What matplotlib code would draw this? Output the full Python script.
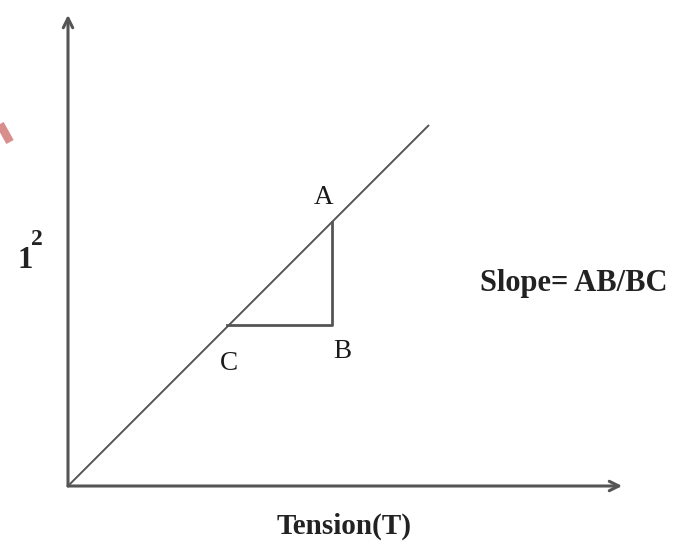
import matplotlib.pyplot as plt

# data in graph units (origin at the corner of the axes)
line_T = [0.0, 10.0]
line_l2 = [0.0, 10.0]
point_names = ["A", "B", "C"]
point_T = [7.3, 7.3, 4.4]
point_l2 = [7.3, 4.45, 4.45]
x_axis_end = 15.35
y_axis_end = 13.05

PX = 36.1  # pixels per graph unit
fig = plt.figure(figsize=(6.76, 5.45), dpi=100)
ax = fig.add_axes([0, 0, 1, 1])
ax.set_xlim(-68 / PX, (676 - 68) / PX)
ax.set_ylim(-(545 - 486) / PX, 486 / PX)
ax.axis("off")

axis_col = "#555555"
for end in [(x_axis_end, 0), (0, y_axis_end)]:
    ax.annotate("", xy=end, xytext=(0, 0),
                arrowprops=dict(arrowstyle="->", color=axis_col, lw=2.2, mutation_scale=17,
                                shrinkA=0, shrinkB=0))

ax.plot(line_T, line_l2, color="#555555", lw=1.4, solid_capstyle="butt")

a, b, c = [(t, l) for t, l in zip(point_T, point_l2)]
ax.plot([c[0], b[0], a[0]], [c[1], b[1], a[1]], color="#555555", lw=2.0)

serif = "Liberation Serif"
offsets = {"A": (-0.22, 0.68), "B": (0.3, -0.72), "C": (0.05, -1.05)}
for name, t, l in zip(point_names, point_T, point_l2):
    dx, dy = offsets[name]
    ax.text(t + dx, l + dy, name, family=serif, fontsize=19.5, ha="center", va="center",
            color="#1a1a1a")

ax.text((344 - 68) / PX, (486 - 534) / PX, "Tension(T)", family=serif, fontsize=21,
        fontweight="bold", ha="center", va="baseline", color="#222222")
ax.text((480 - 68) / PX, (486 - 291) / PX, "Slope= AB/BC", family=serif, fontsize=22,
        fontweight="bold", ha="left", va="baseline", color="#222222")
ax.text((17 - 68) / PX, (486 - 268) / PX, "1", family=serif, fontsize=22,
        fontweight="bold", ha="left", va="baseline", color="#222222")
ax.text((31 - 68) / PX, (486 - 245) / PX, "2", family=serif, fontsize=17,
        fontweight="bold", ha="left", va="baseline", color="#222222")

# faint watermark stroke in the top-left corner
ax.plot([-68 / PX, -58 / PX], [(486 - 124) / PX, (486 - 142) / PX], color="#d98e8e",
        lw=6, solid_capstyle="butt")

fig.savefig("out.png", dpi=100)
